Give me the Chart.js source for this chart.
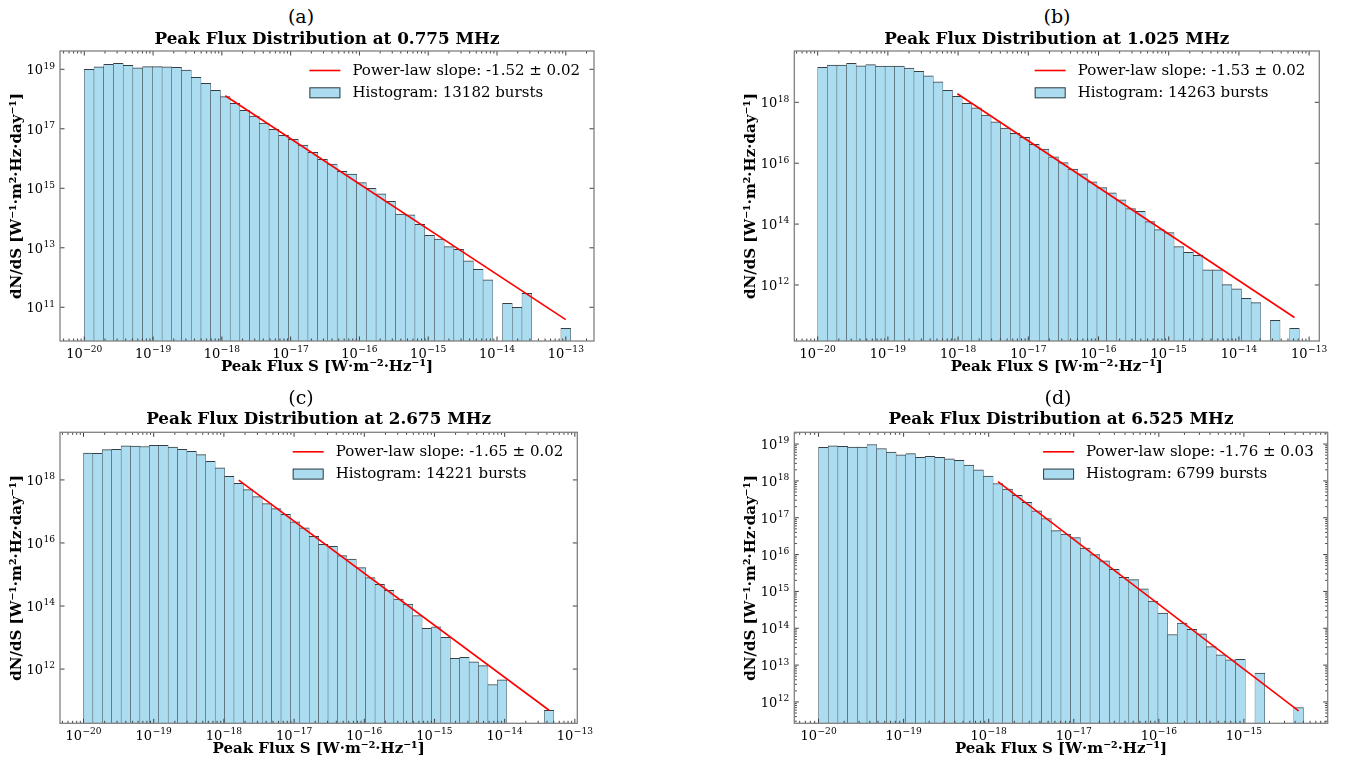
<!DOCTYPE html>
<html>
<head>
<meta charset="utf-8">
<title>Peak Flux Distributions</title>
<script src="https://cdn.jsdelivr.net/npm/chart.js@4.4.1/dist/chart.umd.min.js"></script>
<style>
  html, body { margin: 0; padding: 0; background: #ffffff; }
  #fig { position: relative; width: 1347px; height: 762px; overflow: hidden; background: #ffffff; }
  .panel { position: absolute; }
  .tag { position: absolute; font-family: 'DejaVu Serif', serif; font-size: 19px; color: #000;
         transform: translate(-50%, -50%); white-space: nowrap; line-height: 1; }
</style>
</head>
<body>
<div id="fig"></div>
<script>
// ---------------------------------------------------------------------------
// Data: four receiver frequencies, 50 logarithmic peak-flux bins each.
// Densities are stored as log10(dN/dS); null marks an empty bin.
// ---------------------------------------------------------------------------
const panelTags     = ['(a)', '(b)', '(c)', '(d)'];
const frequencies   = ['0.775', '1.025', '2.675', '6.525'];
const burstCounts   = [13182, 14263, 14221, 6799];
const slopes        = [-1.52, -1.53, -1.65, -1.76];
const slopeErrors   = [0.02, 0.02, 0.02, 0.03];
const binCount      = 50;
const binLogMin     = [-20, -20, -20, -20];
const binLogMax     = [-12.93, -13.14, -13.30, -14.30];

const logDensity0775 = [
  19.00, 19.08, 19.17, 19.20, 19.13, 19.05, 19.09, 19.09, 19.08, 19.07,
  18.97, 18.73, 18.53, 18.29, 18.08, 17.86, 17.62, 17.43, 17.19, 16.98,
  16.78, 16.65, 16.45, 16.21, 15.97, 15.81, 15.57, 15.48, 15.19, 15.00,
  14.81, 14.56, 14.13, 14.11, 13.79, 13.42, 13.29, 13.04, 12.95, 12.56,
  12.28, 11.92, null,  11.13, 11.00, 11.47, null,  null,  null,  10.29
];
const logDensity1025 = [
  19.15, 19.22, 19.22, 19.28, 19.20, 19.24, 19.19, 19.19, 19.19, 19.12,
  19.02, 18.87, 18.67, 18.39, 18.20, 17.97, 17.82, 17.58, 17.36, 17.15,
  16.98, 16.85, 16.62, 16.46, 16.21, 16.02, 15.81, 15.65, 15.39, 15.20,
  15.03, 14.80, 14.51, 14.42, 14.08, 13.82, 13.72, 13.26, 13.07, 12.97,
  12.50, 12.50, 12.01, 11.87, 11.56, 11.42, null,  10.84, null,  10.58
];
const logDensity2675 = [
  18.85, 18.84, 18.96, 18.97, 19.08, 19.07, 19.06, 19.10, 19.10, 19.04,
  18.97, 18.91, 18.80, 18.59, 18.38, 18.11, 17.89, 17.69, 17.47, 17.25,
  17.09, 16.91, 16.67, 16.48, 16.21, 15.96, 15.89, 15.60, 15.49, 15.22,
  14.90, 14.69, 14.50, 14.22, 14.06, 13.70, 13.29, 13.34, 13.01, 12.34,
  12.37, 12.23, 12.11, 11.51, 11.66, null,  null,  null,  null,  10.69
];
const logDensity6525 = [
  18.91, 18.95, 18.94, 18.92, 18.92, 18.99, 18.88, 18.78, 18.71, 18.74,
  18.64, 18.67, 18.64, 18.60, 18.56, 18.43, 18.30, 18.13, 17.93, 17.78,
  17.61, 17.42, 17.19, 16.98, 16.65, 16.56, 16.46, 16.18, 16.00, 15.83,
  15.60, 15.38, 15.32, 15.07, 14.74, 14.41, 13.83, 14.14, 13.97, 13.85,
  13.50, 13.28, 13.14, 13.16, null,  12.78, null,  null,  null,  11.85
];
const logDensities = [logDensity0775, logDensity1025, logDensity2675, logDensity6525];

// Power-law fit: first fitted bin and the fitted log10 density at its centre
const fitStartBin        = [14, 14, 16, 18];
const fitStartLogDensity = [18.11, 18.28, 17.99, 17.98];

// Axis ranges (log10) and labelled y decades
const xLogLimits = [[-20.353, -12.59], [-20.333, -12.855], [-20.335, -12.965], [-20.285, -14.015]];
const yLogLimits = [[9.867, 19.615], [10.16, 19.685], [10.28, 19.51], [11.42, 19.32]];
const yMajorExponents = [
  [11, 13, 15, 17, 19],
  [12, 14, 16, 18],
  [12, 14, 16, 18],
  [12, 13, 14, 15, 16, 17, 18, 19]
];
const yMinorTicksOn = [false, false, false, true];

// ---------------------------------------------------------------------------
// Page geometry of each panel (canvas box, plot area, label anchors)
// ---------------------------------------------------------------------------
const panelBoxes = [
  { cx: 0,   cy: 0,   cw: 673, ch: 390, l: 60,    t: 51,    r: 594,    b: 341,   yLabelX: 17,  xLabelY: 367, titleY: 39.5, tagX: 301,  tagY: 15.5 },
  { cx: 673, cy: 0,   cw: 674, ch: 390, l: 794.3, t: 51,    r: 1319.3, b: 341,   yLabelX: 751, xLabelY: 367, titleY: 39.5, tagX: 1057, tagY: 15.5 },
  { cx: 0,   cy: 390, cw: 673, ch: 372, l: 60,    t: 432.3, r: 577.3,  b: 723.3, yLabelX: 17,  xLabelY: 749, titleY: 420,  tagX: 301,  tagY: 397 },
  { cx: 673, cy: 390, cw: 674, ch: 372, l: 794.3, t: 432.3, r: 1327.7, b: 723.3, yLabelX: 751, xLabelY: 749, titleY: 420,  tagX: 1058, tagY: 397 }
];

const SERIF = "'DejaVu Serif', 'Liberation Serif', serif";
const BAR_FILL = '#abdcf0';
const BAR_EDGE = '#363f44';
const FIT_COLOR = '#ff0000';
const FRAME_COLOR = '#808080';
const TICK_COLOR = '#404040';
const TITLE_LH = 20, AXIS_TITLE_LH = 16;
const TICK_FONT = 13, EXP_FONT = 9.1;

Chart.defaults.font.family = SERIF;
Chart.defaults.color = '#000';

// exponent text for a power of ten, with a typographic minus
const expText = e => String(e).replace('-', '\u2212');

// draws "10" followed by a raised exponent; anchor = 'center' | 'right'
function drawPow10(ctx, e, x, baseline, anchor) {
  ctx.font = TICK_FONT + 'px ' + SERIF;
  const wBase = ctx.measureText('10').width;
  ctx.font = EXP_FONT + 'px ' + SERIF;
  const wExp = ctx.measureText(expText(e)).width;
  const total = wBase + wExp + 0.5;
  const x0 = anchor === 'center' ? x - total / 2 : x - total;
  ctx.textAlign = 'left';
  ctx.textBaseline = 'alphabetic';
  ctx.font = TICK_FONT + 'px ' + SERIF;
  ctx.fillText('10', x0, baseline);
  ctx.font = EXP_FONT + 'px ' + SERIF;
  ctx.fillText(expText(e), x0 + wBase + 0.5, baseline - 5.6);
}

// Inward tick marks on all four sides, tick labels and the box around the plot
const axesFrame = {
  id: 'axesFrame',
  afterDraw(chart, args, o) {
    const { ctx, chartArea: a, scales: { x, y } } = chart;
    ctx.save();
    ctx.strokeStyle = TICK_COLOR;
    ctx.lineWidth = 1;
    const seg = (x0, y0, x1, y1) => { ctx.beginPath(); ctx.moveTo(x0, y0); ctx.lineTo(x1, y1); ctx.stroke(); };
    o.xTicks.forEach(t => {
      const px = x.getPixelForValue(t.v);
      const L = t.major ? 4.5 : 2.5;
      seg(px, a.bottom, px, a.bottom - L);
      seg(px, a.top, px, a.top + L);
    });
    o.yTicks.forEach(t => {
      const py = y.getPixelForValue(t.v);
      const L = t.major ? 4.5 : 2.5;
      seg(a.left, py, a.left + L, py);
      seg(a.right, py, a.right - L, py);
    });
    ctx.strokeStyle = FRAME_COLOR;
    ctx.lineWidth = 1.3;
    ctx.strokeRect(a.left, a.top, a.right - a.left, a.bottom - a.top);

    ctx.fillStyle = '#000';
    x.ticks.forEach(t => {
      drawPow10(ctx, Math.round(t.value), x.getPixelForValue(t.value), a.bottom + 16.6, 'center');
    });
    y.ticks.forEach(t => {
      drawPow10(ctx, Math.round(Math.log10(t.value)), a.left - 5, y.getPixelForValue(t.value) + 5, 'right');
    });
    ctx.restore();
  }
};

// Legend drawn inside the upper-right corner of the plot area
const fitLegend = {
  id: 'fitLegend',
  afterDraw(chart, args, o) {
    const { ctx, chartArea: a } = chart;
    ctx.save();
    ctx.font = '15px ' + SERIF;
    const textW = Math.max(...o.rows.map(r => ctx.measureText(r.text).width));
    const textLeft = a.right - 14 - textW;
    const swR = textLeft - 12, swL = swR - 31;
    o.rows.forEach((r, k) => {
      const cy = a.top + 19.5 + k * 22.3;
      if (r.kind === 'line') {
        ctx.strokeStyle = FIT_COLOR; ctx.lineWidth = 1.6;
        ctx.beginPath(); ctx.moveTo(swL, cy); ctx.lineTo(swR, cy); ctx.stroke();
      } else {
        ctx.fillStyle = BAR_FILL; ctx.fillRect(swL, cy - 5.5, swR - swL, 11);
        ctx.strokeStyle = BAR_EDGE; ctx.lineWidth = 1; ctx.strokeRect(swL + 0.5, cy - 5, swR - swL - 1, 10);
      }
      ctx.fillStyle = '#000'; ctx.textAlign = 'left'; ctx.textBaseline = 'middle';
      ctx.fillText(r.text, textLeft, cy + 0.5);
    });
    ctx.restore();
  }
};

const fig = document.getElementById('fig');

panelBoxes.forEach((box, i) => {
  const tag = document.createElement('div');
  tag.className = 'tag';
  tag.style.left = box.tagX + 'px';
  tag.style.top = box.tagY + 'px';
  tag.textContent = panelTags[i];
  fig.appendChild(tag);

  const wrap = document.createElement('div');
  wrap.className = 'panel';
  wrap.style.left = box.cx + 'px';
  wrap.style.top = box.cy + 'px';
  const canvas = document.createElement('canvas');
  canvas.width = box.cw; canvas.height = box.ch;
  canvas.style.width = box.cw + 'px'; canvas.style.height = box.ch + 'px';
  wrap.appendChild(canvas);
  fig.appendChild(wrap);

  const dens = logDensities[i];
  const w = (binLogMax[i] - binLogMin[i]) / binCount;
  const centre = k => binLogMin[i] + w * (k + 0.5);
  const bars = dens.map((v, k) => ({ x: centre(k), y: v === null ? null : Math.pow(10, v) }));

  const fx0 = centre(fitStartBin[i]), fx1 = centre(binCount - 1);
  const fitLine = [fx0, fx1].map(x => ({ x, y: Math.pow(10, fitStartLogDensity[i] + slopes[i] * (x - fx0)) }));

  const [xmin, xmax] = xLogLimits[i];
  const [ylo, yhi] = yLogLimits[i];
  const xMajor = [];
  for (let n = Math.ceil(xmin); n <= Math.floor(xmax); n++) xMajor.push(n);
  const xTicks = [];
  for (let n = Math.floor(xmin); n <= Math.ceil(xmax); n++) {
    for (let k = 1; k <= 9; k++) {
      const v = n + Math.log10(k);
      if (v >= xmin && v <= xmax) xTicks.push({ v, major: k === 1 });
    }
  }
  const yTicks = [];
  if (yMinorTicksOn[i]) {
    for (let e = Math.floor(ylo); e <= Math.ceil(yhi); e++) {
      for (let k = 1; k <= 9; k++) {
        const lv = e + Math.log10(k);
        if (lv >= ylo && lv <= yhi) yTicks.push({ v: Math.pow(10, lv), major: k === 1 });
      }
    }
  } else {
    yMajorExponents[i].forEach(e => yTicks.push({ v: Math.pow(10, e), major: true }));
  }

  const padLeft = box.yLabelX - box.cx - AXIS_TITLE_LH / 2;
  const yAxisW = box.l - box.cx - padLeft;
  const padRight = box.cx + box.cw - box.r;
  const padTop = box.titleY - box.cy - TITLE_LH / 2;
  const titlePadBottom = box.t - box.titleY - TITLE_LH / 2;
  const xAxisH = box.cy + box.ch - box.b;
  const xTitlePadBottom = box.cy + box.ch - box.xLabelY - AXIS_TITLE_LH / 2;

  new Chart(canvas, {
    type: 'bar',
    data: {
      datasets: [
        {
          type: 'line',
          label: 'Power-law fit',
          data: fitLine,
          borderColor: FIT_COLOR,
          borderWidth: 1.6,
          pointRadius: 0,
          fill: false,
          tension: 0,
          order: 0
        },
        {
          type: 'bar',
          label: 'Histogram',
          data: bars,
          backgroundColor: BAR_FILL,
          borderColor: BAR_EDGE,
          borderWidth: { top: 1, left: 0.5, right: 0.5, bottom: 0 },
          borderSkipped: 'start',
          barPercentage: 1,
          categoryPercentage: 1,
          grouped: false,
          order: 1
        }
      ]
    },
    options: {
      responsive: false,
      animation: false,
      devicePixelRatio: 1,
      events: [],
      layout: { padding: { left: padLeft, right: padRight, top: padTop, bottom: 0 } },
      plugins: {
        legend: { display: false },
        tooltip: { enabled: false },
        title: {
          display: true,
          fullSize: false,
          text: 'Peak Flux Distribution at ' + frequencies[i] + ' MHz',
          color: '#000',
          font: { family: SERIF, size: 16.8, weight: 'bold', lineHeight: TITLE_LH + 'px' },
          padding: { top: 0, bottom: titlePadBottom }
        },
        axesFrame: { xTicks, yTicks },
        fitLegend: {
          rows: [
            { kind: 'line', text: 'Power-law slope: ' + slopes[i].toFixed(2) + ' \u00B1 ' + slopeErrors[i].toFixed(2) },
            { kind: 'box', text: 'Histogram: ' + burstCounts[i] + ' bursts' }
          ]
        }
      },
      scales: {
        x: {
          type: 'linear',
          position: 'bottom',
          min: xmin,
          max: xmax,
          bounds: 'data',
          offset: false,
          grid: { display: false, drawTicks: false },
          border: { display: false },
          ticks: { display: false, autoSkip: false },
          title: {
            display: true,
            text: 'Peak Flux S [W\u00B7m\u207B\u00B2\u00B7Hz\u207B\u00B9]',
            color: '#000',
            font: { family: SERIF, size: 15, weight: 'bold', lineHeight: AXIS_TITLE_LH + 'px' },
            padding: { top: 0, bottom: xTitlePadBottom }
          },
          afterBuildTicks: s => { s.ticks = xMajor.map(v => ({ value: v })); },
          afterFit: s => { s.height = xAxisH; }
        },
        y: {
          type: 'logarithmic',
          position: 'left',
          min: Math.pow(10, ylo),
          max: Math.pow(10, yhi),
          bounds: 'data',
          grid: { display: false, drawTicks: false },
          border: { display: false },
          ticks: { display: false, autoSkip: false },
          title: {
            display: true,
            text: 'dN/dS [W\u207B\u00B9\u00B7m\u00B2\u00B7Hz\u00B7day\u207B\u00B9]',
            color: '#000',
            font: { family: SERIF, size: 15, weight: 'bold', lineHeight: AXIS_TITLE_LH + 'px' },
            padding: { top: 0, bottom: 0 }
          },
          afterBuildTicks: s => { s.ticks = yMajorExponents[i].map(e => ({ value: Math.pow(10, e) })); },
          afterFit: s => { s.width = yAxisW; }
        }
      }
    },
    plugins: [axesFrame, fitLegend]
  });
});
</script>
</body>
</html>
